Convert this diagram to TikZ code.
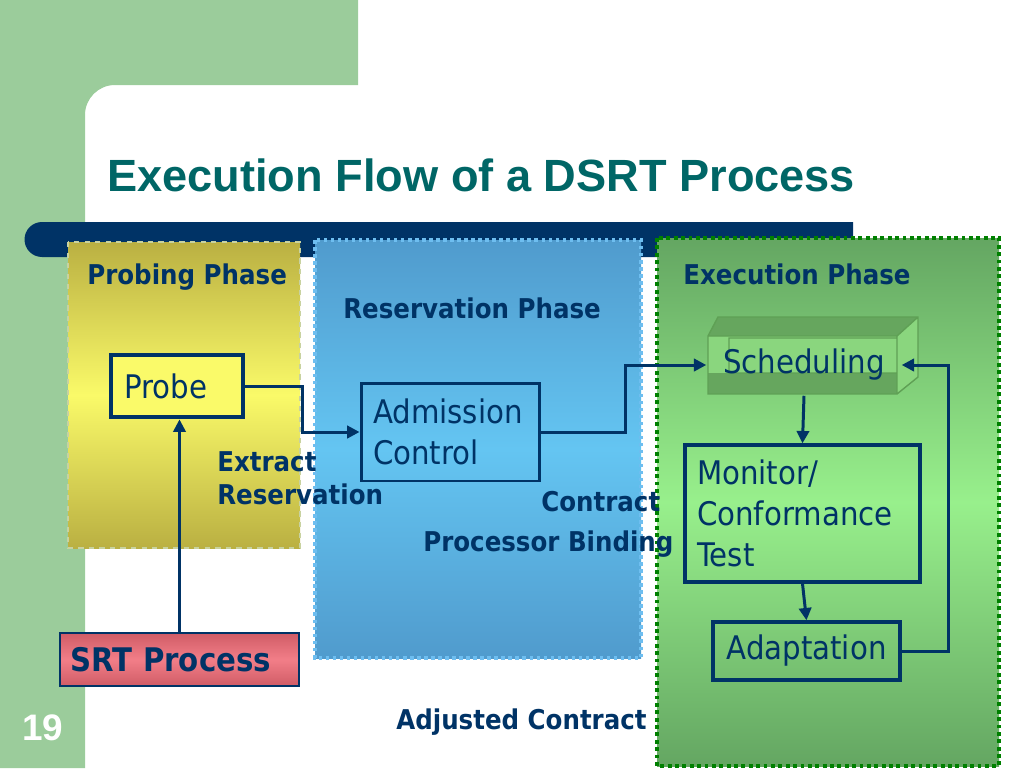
\documentclass[tikz,border=0pt]{standalone}
\usepackage{fontspec}
\setmainfont{Liberation Sans}
\newfontfamily\tahoma[FakeStretch=0.9]{DejaVu Sans}
\usetikzlibrary{arrows.meta}
\definecolor{bggreen}{RGB}{155,204,155}
\definecolor{navy}{RGB}{0,51,102}
\definecolor{titleteal}{RGB}{0,102,102}
\definecolor{olive}{RGB}{186,176,66}
\definecolor{lemon}{RGB}{250,250,105}
\definecolor{skyA}{RGB}{80,155,205}
\definecolor{skyB}{RGB}{100,197,242}
\definecolor{leafA}{RGB}{100,166,98}
\definecolor{leafB}{RGB}{152,240,140}
\definecolor{leafdark}{RGB}{0,128,0}
\definecolor{skyline}{RGB}{110,190,240}
\definecolor{probeline}{RGB}{200,210,160}
\definecolor{schedface}{RGB}{138,214,126}
\definecolor{schedtop}{RGB}{102,166,94}
\definecolor{schedline}{RGB}{95,160,85}
\definecolor{srtA}{RGB}{208,92,102}
\definecolor{srtB}{RGB}{242,126,136}
\begin{document}
\begin{tikzpicture}[x=0.02cm,y=-0.02cm,
  box/.style={draw=navy,line width=2pt,text=navy,font=\tahoma\fontsize{18.5}{23.5}\selectfont,inner ysep=0pt},
  lbl/.style={text=navy,font=\tahoma\bfseries\fontsize{15.5}{18.7}\selectfont,anchor=west,inner sep=0pt},
  link/.style={draw=navy,line width=1.7pt,-{Triangle[length=7pt,width=7pt]}}]
\useasboundingbox (0,0) rectangle (1024,768);
% slide background
\fill[bggreen] (0,0) -- (358,0) -- (358,85) -- (115,85)
  arc[start angle=90,end angle=180,radius=0.6cm] -- (85,768) -- (0,768) -- cycle;
\fill[navy] (853,222) -- (42,222) arc[start angle=90,end angle=270,radius=0.35cm] -- (853,257) -- cycle;
\node[text=titleteal,font=\bfseries\fontsize{25.7}{26}\selectfont,anchor=west,inner sep=0pt] (title) at (107,175) {Execution Flow of a DSRT Process};
\node[text=white,font=\bfseries\fontsize{21}{21}\selectfont,anchor=west,inner sep=0pt] (page) at (22,728) {19};
% the three phases
\shade[top color=olive,bottom color=olive,middle color=lemon] (68,242) rectangle (300,548);
\draw[probeline,line width=1pt,dashed] (68,242) rectangle (300,548);
\shade[top color=skyA,bottom color=skyA,middle color=skyB] (315,240) rectangle (641,658);
\draw[skyline,line width=2pt,dotted] (315,240) rectangle (641,658);
\shade[top color=leafA,bottom color=leafA,middle color=leafB] (657,238) rectangle (999,766);
\draw[leafdark,line width=2.2pt,dotted] (657,238) rectangle (999,766);
\node[lbl] (probing) at (87,277) {Probing Phase};
\node[lbl] (reserv) at (343,308) {Reservation Phase};
\node[lbl] (exec) at (683,274) {Execution Phase};
% scheduling block
\fill[schedface] (708,336) -- (718,317) -- (918,317) -- (918,377) -- (897,394) -- (708,394) -- cycle;
\fill[schedtop] (708,336) -- (718,317) -- (918,317) -- (897,336) -- cycle;
\fill[schedtop] (708,373) rectangle (897,394);
\draw[schedline,line width=0.8pt] (708,336) -- (718,317) -- (918,317) -- (918,377) -- (897,394) -- (708,394) -- cycle
  (708,336) -- (897,336) -- (918,317) (897,336) -- (897,394) (729,338) rectangle (897,373);
% boxes
\node[box,line width=2.8pt,fill=lemon,minimum width=2.64cm,minimum height=1.24cm,inner xsep=0.26cm,text width=2.12cm,align=left] (probe) at (177,386) {Probe};
\node[box,line width=1.7pt,minimum width=3.58cm,minimum height=1.96cm,inner xsep=0.24cm,text width=3.1cm,align=left] (adm) at (450.5,432) {Admission\\Control};
\node[box,draw=none,minimum width=3.84cm,minimum height=1.16cm,inner sep=0pt] (sched) at (804,365) {Scheduling};
\node[box,minimum width=4.7cm,minimum height=2.74cm,inner xsep=0.24cm,text width=4.22cm,align=left] (mon) at (802.5,513.5) {Monitor/\\Conformance\\Test};
\node[box,minimum width=3.74cm,minimum height=1.16cm,inner xsep=0pt] (adapt) at (806.5,651) {Adaptation};
\node[draw=navy,line width=0.8pt,top color=srtA,bottom color=srtA,middle color=srtB,text=navy,font=\tahoma\bfseries\fontsize{18.5}{20}\selectfont,minimum width=4.78cm,minimum height=1.06cm,inner xsep=0.2cm,inner ysep=0pt,text width=4.38cm,align=left] (srt) at (179.5,659.5) {SRT Process};
% labels
\node[lbl,align=left] (extract) at (217,478) {Extract\\Reservation};
\node[lbl] (contract) at (541,502) {Contract};
\node[lbl] (binding) at (423,544) {Processor Binding};
\node[lbl] (adjusted) at (396,722) {Adjusted Contract};
% connectors
\draw[link,line width=1.4pt] (srt.north) -- (srt.north |- probe.south);
\draw[link] (probe.east) -- ++(57,0) |- (adm.west);
\draw[link] (adm.east) -- ++(84,0) |- (sched.west);
\draw[link] (sched.south) -- (mon.north);
\draw[link] (mon.south) -- (adapt.north);
\draw[link] (adapt.east) -- ++(47,0) |- (sched.east);
\end{tikzpicture}
\end{document}
